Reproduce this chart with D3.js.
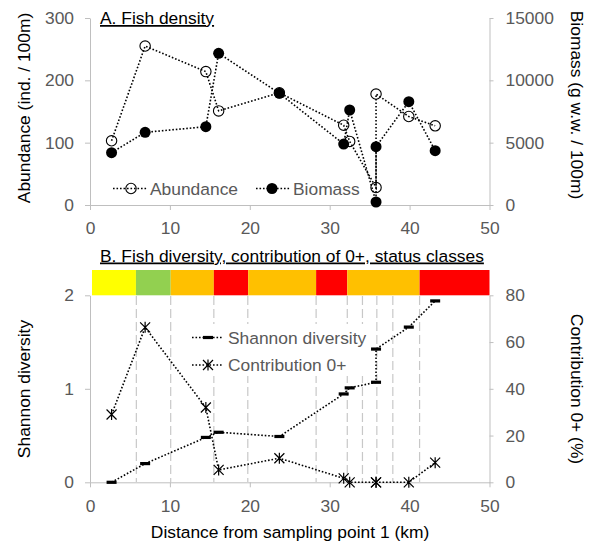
<!DOCTYPE html>
<html>
<head>
<meta charset="utf-8">
<script src="https://cdn.jsdelivr.net/npm/d3@7"></script>
<style>
  body { margin: 0; background: white; }
  svg { font-family: "Liberation Sans", Arial, sans-serif; }
</style>
</head>
<body>
<svg width="596" height="544"></svg>
<script>
// distance from sampling point 1 (km), shared by all series
var distance = [2.7, 6.9, 14.5, 16.1, 23.7, 31.75, 32.5, 35.8, 35.8, 39.9, 43.2];
// panel A
var abundance = [103, 255, 214, 151, 180, 128, 102, 28, 178, 142, 127];
var biomass = [4200, 5830, 6280, 12170, 8960, 4890, 7620, 240, 4680, 8290, 4360];
// panel B
var shannon = [0, 0.2, 0.48, 0.535, 0.49, 0.945, 1.01, 1.07, 1.425, 1.66, 1.94];
var contribution = [29, 66.3, 32, 5.3, 10.3, 1.7, 0, 0, 0, 0, 8.4];
// status classes along the river
var classBounds = [0.25, 5.75, 10.1, 15.5, 19.8, 28.3, 32.2, 41.25, 50];
var classColors = ["#ffff00", "#92d050", "#ffc000", "#ff0000", "#ffc000", "#ff0000", "#ffc000", "#ff0000"];
var dividers = [5.8, 10.1, 15.5, 19.75, 28.3, 32.2, 34.1, 35.9, 37.9, 41.25];

var xTicks = [0, 10, 20, 30, 40, 50];

var svg = d3.select("svg");
var grey = "#595959", axisCol = "#bfbfbf", fs = 17.4;
var fmt = d3.format("d");

var x = d3.scaleLinear().domain([0, 50]).range([90, 489.5]);

function styleAxis(g) {
    g.select(".domain").attr("stroke", axisCol);
    g.selectAll(".tick line").attr("stroke", axisCol);
    g.selectAll(".tick text").attr("fill", grey).style("font-size", fs + "px").style("font-family", "inherit");
}

function dotted(sel) {
    return sel.attr("fill", "none").attr("stroke", "black")
        .attr("stroke-width", 1.6).attr("stroke-dasharray", "1.6,1.9");
}

function lineOf(yScale, vals) {
    return d3.line().x(function(d, i) { return x(distance[i]); })
        .y(function(d) { return yScale(d); })(vals);
}

function openCircle(g, cx, cy) {
    g.append("circle").attr("cx", cx).attr("cy", cy).attr("r", 5.2)
        .attr("fill", "none").attr("stroke", "black").attr("stroke-width", 1.1);
}
function filledCircle(g, cx, cy) {
    g.append("circle").attr("cx", cx).attr("cy", cy).attr("r", 5.5).attr("fill", "black");
}
function dashMark(g, cx, cy) {
    g.append("rect").attr("x", cx - 5).attr("y", cy - 1.6).attr("width", 10).attr("height", 3.2).attr("fill", "black");
}
function starMark(g, cx, cy) {
    g.append("path").attr("transform", "translate(" + cx + "," + cy + ")")
        .attr("d", "M-5,-5L5,5M-5,5L5,-5M0,-5.5V5.5")
        .attr("stroke", "black").attr("stroke-width", 1.2).attr("fill", "none");
}

// ---------------- panel A ----------------
var yA = d3.scaleLinear().domain([0, 300]).range([205, 18]);
var yB = d3.scaleLinear().domain([0, 15000]).range([205, 18]);

svg.append("g").attr("transform", "translate(0,205)")
    .call(d3.axisBottom(x).tickValues(xTicks).tickFormat(fmt).tickSize(5).tickPadding(12).tickSizeOuter(0))
    .call(styleAxis);
svg.append("g").attr("transform", "translate(90,0)")
    .call(d3.axisLeft(yA).tickValues([0, 100, 200, 300]).tickFormat(fmt).tickSize(5).tickPadding(11).tickSizeOuter(0))
    .call(styleAxis);
svg.append("g").attr("transform", "translate(489.5,0)")
    .call(d3.axisRight(yB).tickValues([0, 5000, 10000, 15000]).tickFormat(fmt).tickSize(4).tickPadding(12).tickSizeOuter(0))
    .call(styleAxis);

var pA = svg.append("g");
pA.append("path").attr("d", lineOf(yA, abundance)).call(dotted);
pA.append("path").attr("d", lineOf(yB, biomass)).call(dotted);
abundance.forEach(function(d, i) { openCircle(pA, x(distance[i]), yA(d)); });
biomass.forEach(function(d, i) { filledCircle(pA, x(distance[i]), yB(d)); });

// legend A
var legA = svg.append("g");
legA.append("path").attr("d", "M113,188.5H147").call(dotted);
openCircle(legA, 131, 188.5);
legA.append("text").attr("x", 150).attr("y", 188.5).attr("dy", "0.35em").attr("fill", grey)
    .style("font-size", fs + "px").text("Abundance");
legA.append("path").attr("d", "M256,188.5H290").call(dotted);
filledCircle(legA, 272, 188.5);
legA.append("text").attr("x", 293).attr("y", 188.5).attr("dy", "0.35em").attr("fill", grey)
    .style("font-size", fs + "px").text("Biomass");

svg.append("text").attr("x", 100).attr("y", 24).style("font-size", fs + "px")
    .attr("text-decoration", "underline").text("A. Fish density");
svg.append("text").attr("transform", "translate(30,108) rotate(-90)").attr("text-anchor", "middle")
    .style("font-size", fs + "px").text("Abundance (ind. / 100m)");
svg.append("text").attr("transform", "translate(571,105) rotate(90)").attr("text-anchor", "middle")
    .style("font-size", fs + "px").text("Biomass (g w.w. / 100m)");

// ---------------- panel B ----------------
var yS = d3.scaleLinear().domain([0, 2]).range([482.3, 295.3]);
var yC = d3.scaleLinear().domain([0, 80]).range([482.3, 295.3]);

// status class bar
svg.append("g").selectAll("rect").data(classColors).enter().append("rect")
    .attr("x", function(d, i) { return x(classBounds[i]); })
    .attr("width", function(d, i) { return x(classBounds[i + 1]) - x(classBounds[i]); })
    .attr("y", 270).attr("height", 25.3)
    .attr("fill", function(d) { return d; });

// class dividers
svg.append("g").selectAll("line").data(dividers).enter().append("line")
    .attr("x1", function(d) { return x(d); }).attr("x2", function(d) { return x(d); })
    .attr("y1", 296).attr("y2", 482)
    .attr("stroke", "#c8c8c8").attr("stroke-width", 1.2).attr("stroke-dasharray", "9,4");

svg.append("g").attr("transform", "translate(0,482.3)")
    .call(d3.axisBottom(x).tickValues(xTicks).tickFormat(fmt).tickSize(5).tickPadding(12).tickSizeOuter(0))
    .call(styleAxis);
svg.append("g").attr("transform", "translate(90,0)")
    .call(d3.axisLeft(yS).tickValues([0, 1, 2]).tickFormat(fmt).tickSize(5).tickPadding(11).tickSizeOuter(0))
    .call(styleAxis);
svg.append("g").attr("transform", "translate(489.5,0)")
    .call(d3.axisRight(yC).tickValues([0, 20, 40, 60, 80]).tickFormat(fmt).tickSize(4).tickPadding(12).tickSizeOuter(0))
    .call(styleAxis);

// legend B (white box hides dividers)
var legB = svg.append("g");
legB.append("rect").attr("x", 186).attr("y", 324).attr("width", 184).attr("height", 52).attr("fill", "white");
legB.append("path").attr("d", "M192,337.5H223").call(dotted);
dashMark(legB, 208, 337.5);
legB.append("text").attr("x", 228).attr("y", 337.5).attr("dy", "0.35em").attr("fill", grey)
    .style("font-size", fs + "px").text("Shannon diversity");
legB.append("path").attr("d", "M192,365H223").call(dotted);
starMark(legB, 208, 365);
legB.append("text").attr("x", 228).attr("y", 365).attr("dy", "0.35em").attr("fill", grey)
    .style("font-size", fs + "px").text("Contribution 0+");

var pB = svg.append("g");
pB.append("path").attr("d", lineOf(yS, shannon)).call(dotted);
pB.append("path").attr("d", lineOf(yC, contribution)).call(dotted);
shannon.forEach(function(d, i) { dashMark(pB, x(distance[i]), yS(d)); });
contribution.forEach(function(d, i) { starMark(pB, x(distance[i]), yC(d)); });

svg.append("text").attr("x", 100).attr("y", 261.5).style("font-size", fs + "px")
    .attr("text-decoration", "underline").text("B. Fish diversity, contribution of 0+, status classes");
svg.append("text").attr("transform", "translate(30,389) rotate(-90)").attr("text-anchor", "middle")
    .style("font-size", fs + "px").text("Shannon diversity");
svg.append("text").attr("transform", "translate(571,389) rotate(90)").attr("text-anchor", "middle")
    .style("font-size", fs + "px").text("Contribution 0+ (%)");
svg.append("text").attr("x", 290).attr("y", 538).attr("text-anchor", "middle")
    .style("font-size", fs + "px").text("Distance from sampling point 1 (km)");
</script>
</body>
</html>
